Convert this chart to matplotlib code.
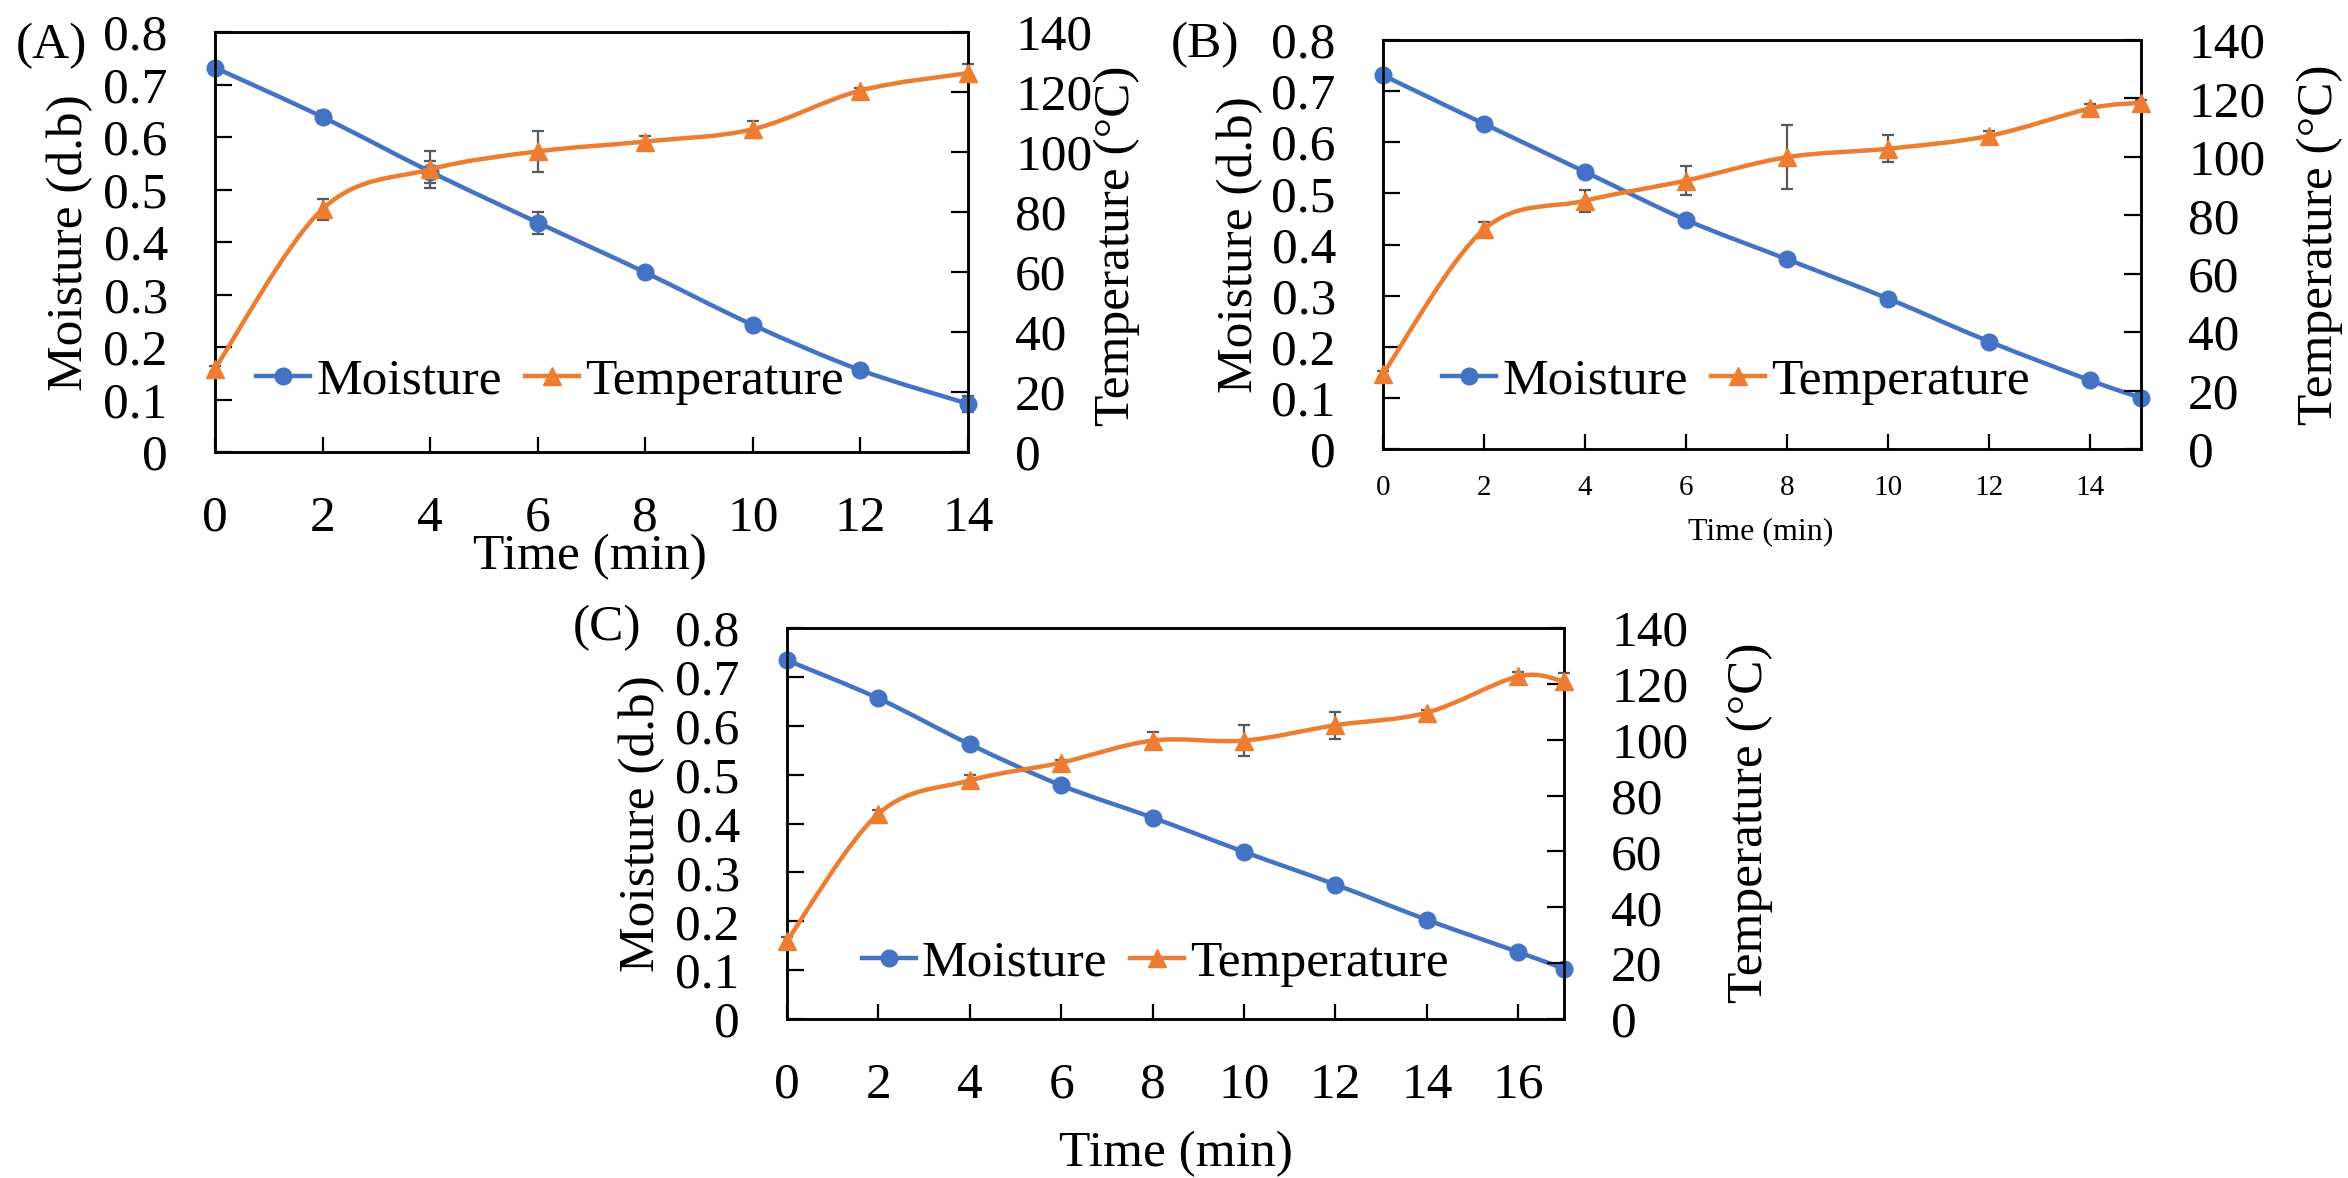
import matplotlib
matplotlib.use("Agg")
import matplotlib.pyplot as plt
from matplotlib.path import Path
from matplotlib.patches import PathPatch
from matplotlib.lines import Line2D
from matplotlib.ticker import FixedLocator, FuncFormatter

plt.rcParams['font.family'] = ['Liberation Serif', 'DejaVu Serif']

# ---- data ----
time_a = [0, 2, 4, 6, 8, 10, 12, 14]
moist_a = [0.732, 0.638, 0.534, 0.437, 0.342, 0.242, 0.156, 0.092]
moist_a_err = [0.0, 0.012, 0.021, 0.021, 0.010, 0.005, 0.004, 0.015]
temp_a = [27.8, 81.0, 94.2, 100.2, 103.5, 107.6, 120.5, 126.3]
temp_a_err = [1.0, 3.5, 6.3, 6.7, 2.0, 2.8, 0.8, 3.0]

time_b = [0, 2, 4, 6, 8, 10, 12, 14, 15]
moist_b = [0.731, 0.636, 0.542, 0.448, 0.371, 0.294, 0.210, 0.134, 0.100]
moist_b_err = [0.0, 0.004, 0.004, 0.004, 0.004, 0.004, 0.004, 0.004, 0.003]
temp_b = [25.7, 75.2, 85.0, 91.9, 99.9, 102.8, 107.2, 116.6, 118.5]
temp_b_err = [1.0, 2.5, 3.8, 5.0, 10.9, 4.6, 1.5, 1.5, 1.0]

time_c = [0, 2, 4, 6, 8, 10, 12, 14, 16, 17]
moist_c = [0.734, 0.656, 0.562, 0.478, 0.412, 0.342, 0.275, 0.203, 0.137, 0.103]
moist_c_err = [0.0, 0.004, 0.004, 0.003, 0.003, 0.003, 0.003, 0.003, 0.003, 0.003]
temp_c = [28.0, 73.5, 85.4, 91.8, 99.7, 99.7, 105.2, 109.7, 122.7, 120.9]
temp_c_err = [1.5, 1.5, 2.0, 1.0, 3.0, 5.6, 4.9, 1.0, 1.5, 2.9]

moist_ticks = [0, 0.1, 0.2, 0.3, 0.4, 0.5, 0.6, 0.7, 0.8]
temp_ticks = [0, 20, 40, 60, 80, 100, 120, 140]

BLUE = '#4472C4'
ORANGE = '#ED7D31'
GREY = '#595959'
W, H = 2348, 1178
FS = 37


def smooth(x, y):
    # Excel-style smoothed line as cubic Bezier segments
    n = len(x)
    verts = [(x[0], y[0])]
    codes = [Path.MOVETO]
    for i in range(n - 1):
        a = max(i - 1, 0)
        b = min(i + 2, n - 1)
        c1 = (x[i] + (x[i + 1] - x[a]) / 6, y[i] + (y[i + 1] - y[a]) / 6)
        c2 = (x[i + 1] - (x[b] - x[i]) / 6, y[i + 1] - (y[b] - y[i]) / 6)
        verts += [c1, c2, (x[i + 1], y[i + 1])]
        codes += [Path.CURVE4] * 3
    return Path(verts, codes)


def px(x, y):
    return x / W, 1 - y / H


def rect(l, t, r, b):
    return [l / W, 1 - b / H, (r - l) / W, (b - t) / H]


def series(ax, x, y, err, color, marker, ms):
    ax.errorbar(x, y, yerr=err, fmt='none', ecolor=GREY, elinewidth=1.6,
                capsize=4.5, capthick=1.6, zorder=2, clip_on=False)
    ax.add_patch(PathPatch(smooth(x, y), facecolor='none', edgecolor=color,
                           lw=3.2, zorder=3, capstyle='round'))
    ax.plot(x, y, ls='none', marker=marker, ms=ms, color=color, zorder=4,
            clip_on=False)


def panel(box, t, m, merr, tmp, terr, xmax, xtick_fs, xpad, legpos):
    ax = fig.add_axes(rect(*box))
    ax2 = ax.twinx()
    series(ax, t, m, merr, BLUE, 'o', 12)
    series(ax2, t, tmp, terr, ORANGE, '^', 13)
    ax.set_xlim(0, xmax)
    ax.set_ylim(0, 0.8)
    ax2.set_ylim(0, 140)
    ax.xaxis.set_major_locator(FixedLocator(list(range(0, xmax + 1, 2))))
    ax.yaxis.set_major_locator(FixedLocator(moist_ticks))
    ax.yaxis.set_major_formatter(FuncFormatter(lambda v, p: '0' if v == 0 else '%.1f' % v))
    ax2.yaxis.set_major_locator(FixedLocator(temp_ticks))
    ax.tick_params(axis='y', direction='in', length=12, width=1.6, pad=34, labelsize=FS)
    ax.tick_params(axis='x', direction='in', length=11, width=1.6, pad=xpad, labelsize=xtick_fs)
    ax2.tick_params(axis='y', direction='in', length=12, width=1.6, pad=34, labelsize=FS)
    for a in (ax, ax2):
        for s in a.spines.values():
            s.set_linewidth(1.8)
    h = [Line2D([], [], color=BLUE, lw=3.2, marker='o', ms=12),
         Line2D([], [], color=ORANGE, lw=3.2, marker='^', ms=13)]
    ax2.legend(h, ['Moisture', 'Temperature'], ncol=2, frameon=False,
               loc='center', bbox_to_anchor=legpos, fontsize=FS,
               handlelength=1.05, handletextpad=0.12, columnspacing=0.45,
               borderpad=0, borderaxespad=0)
    return ax, ax2


fig = plt.figure(figsize=(W / 100, H / 100), dpi=100)

panel((215, 32, 968, 452), time_a, moist_a, moist_a_err, temp_a, temp_a_err,
      14, FS, 31, (0.445, 0.169))
panel((1383, 40, 2141, 449), time_b, moist_b, moist_b_err, temp_b, temp_b_err,
      15, 21, 19, (0.466, 0.166))
panel((787, 628, 1564, 1019), time_c, moist_c, moist_c_err, temp_c, temp_c_err,
      17, FS, 31, (0.474, 0.143))

labels = [
    ('(A)', 51, 46, 0, FS), ('(B)', 1205, 45, 0, FS), ('(C)', 607, 628, 0, FS),
    ('Moisture (d.b)', 70, 243, 90, FS), ('Temperature (°C)', 1117, 246, 90, FS),
    ('Moisture (d.b)', 1240, 245, 90, FS), ('Temperature (°C)', 2320, 245, 90, FS),
    ('Moisture (d.b)', 642, 824, 90, FS), ('Temperature (°C)', 1750, 823, 90, FS),
    ('Time (min)', 590, 557, 0, FS), ('Time (min)', 1761, 532, 0, 23),
    ('Time (min)', 1176, 1154, 0, FS),
]
for s, x, y, rot, fs in labels:
    fig.text(*px(x, y), s, rotation=rot, ha='center', va='center', fontsize=fs)

fig.savefig('out.png', dpi=100)
